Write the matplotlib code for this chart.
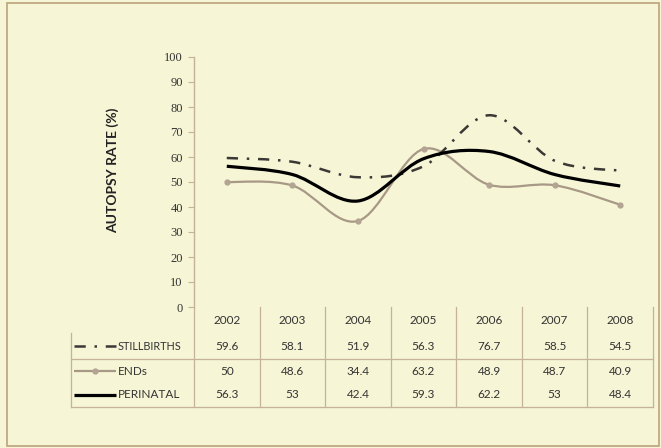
import matplotlib
matplotlib.use("Agg")
import matplotlib.pyplot as plt
from matplotlib.path import Path
from matplotlib.patches import PathPatch, Rectangle
from matplotlib.lines import Line2D
import numpy as np

years = ["2002", "2003", "2004", "2005", "2006", "2007", "2008"]
stillbirths = [59.6, 58.1, 51.9, 56.3, 76.7, 58.5, 54.5]
ends = [50, 48.6, 34.4, 63.2, 48.9, 48.7, 40.9]
perinatal = [56.3, 53, 42.4, 59.3, 62.2, 53, 48.4]
series_names = ["STILLBIRTHS", "ENDs", "PERINATAL"]
y_ticks = [0, 10, 20, 30, 40, 50, 60, 70, 80, 90, 100]

BG = "#F6F5D6"
AX = "#C6B296"
W, H = 661, 448
fig = plt.figure(figsize=(W / 100, H / 100), dpi=100, facecolor=BG)

# outer border
fig.patches.append(Rectangle((7 / W, 2 / H), (W - 9) / W, (H - 5) / H, transform=fig.transFigure,
                             fill=False, edgecolor="#BFA983", linewidth=1.3))

left_px, right_px, top_px, bot_px = 194, 653, 57, 307
ax = fig.add_axes([left_px / W, 1 - bot_px / H, (right_px - left_px) / W, (bot_px - top_px) / H])
ax.set_facecolor("none")
n = len(years)
ax.set_xlim(-0.5, n - 0.5)
ax.set_ylim(0, 100)
for s in ["top", "right", "bottom"]:
    ax.spines[s].set_visible(False)
ax.spines["left"].set_color(AX)
ax.spines["left"].set_linewidth(1.0)
ax.set_xticks([])
ax.set_yticks(y_ticks)
ax.set_yticklabels([str(t) for t in y_ticks], family="Liberation Serif", fontsize=9, color="#333333")
ax.tick_params(axis="y", length=4, color=AX, width=0.8, pad=4)
ax.set_ylabel("AUTOPSY RATE (%)", family="Lato", fontweight="bold", fontsize=10, color="#222222")
ax.yaxis.set_label_coords((113 - left_px) / (right_px - left_px), (bot_px - 170) / (bot_px - top_px))
ax.yaxis.label.set_va("center")


def smooth_path(xs, ys):
    pts = np.column_stack([xs, ys]).astype(float)
    ext = np.vstack([pts[0], pts, pts[-1]])
    verts = [tuple(pts[0])]
    codes = [Path.MOVETO]
    for i in range(len(pts) - 1):
        p0, p1, p2, p3 = ext[i], ext[i + 1], ext[i + 2], ext[i + 3]
        c1 = p1 + (p2 - p0) / 6.0
        c2 = p2 - (p3 - p1) / 6.0
        verts += [tuple(c1), tuple(c2), tuple(p2)]
        codes += [Path.CURVE4] * 3
    return Path(verts, codes)


xs = np.arange(n)
styles = {
    "STILLBIRTHS": dict(color="#3B3935", lw=1.8, ls=(0, (4.5, 3.5, 1.0, 3.5))),
    "ENDs": dict(color="#A89886", lw=1.6, ls="-"),
    "PERINATAL": dict(color="#000000", lw=2.3, ls="-"),
}
data = {"STILLBIRTHS": stillbirths, "ENDs": ends, "PERINATAL": perinatal}
for name in ["ENDs", "STILLBIRTHS", "PERINATAL"]:
    st = styles[name]
    patch = PathPatch(smooth_path(xs, data[name]), facecolor="none", edgecolor=st["color"],
                      linewidth=st["lw"], linestyle=st["ls"], capstyle="butt", zorder=3)
    ax.add_patch(patch)
ax.plot(xs, ends, linestyle="none", marker="o", markersize=3.5, color="#B3A493", zorder=4)

# data table (axes fraction y below plot)
def yf(px):
    return (bot_px - px) / (bot_px - top_px)

trans = ax.get_xaxis_transform()
tfont = dict(family="Lato", fontsize=8.5, color="#333333", ha="center", va="center")
row_centers = [320, 346, 371, 395]
for i, yr in enumerate(years):
    ax.text(i, yf(row_centers[0]), yr, transform=trans, clip_on=False, **tfont)
for r, name in enumerate(series_names):
    for i, v in enumerate(data[name]):
        ax.text(i, yf(row_centers[r + 1]), f"{v:g}", transform=trans, clip_on=False, **tfont)

# grid lines of the table
for k in range(n + 1):
    ax.plot([k - 0.5, k - 0.5], [yf(307), yf(407)], transform=trans, clip_on=False,
            color=AX, lw=0.9)
x_left = (71 - left_px) / (right_px - left_px) * n - 0.5
for ypx in [359, 407]:
    ax.plot([x_left, n - 0.5], [yf(ypx), yf(ypx)], transform=trans, clip_on=False, color=AX, lw=0.9)
ax.plot([x_left, x_left], [yf(333), yf(407)], transform=trans, clip_on=False, color=AX, lw=0.9)

# legend keys in the table
axes_px_to_x = lambda px: (px - left_px) / (right_px - left_px) * n - 0.5
k0, k1, tx = axes_px_to_x(74), axes_px_to_x(116), axes_px_to_x(118)
for r, name in enumerate(series_names):
    st = styles[name]
    yy = yf(row_centers[r + 1])
    ax.add_line(Line2D([k0, k1], [yy, yy], transform=trans, clip_on=False, color=st["color"],
                       lw=st["lw"], linestyle=st["ls"], solid_capstyle="butt", dash_capstyle="butt"))
    if name == "ENDs":
        ax.add_line(Line2D([(k0 + k1) / 2], [yy], transform=trans, clip_on=False, marker="o",
                           markersize=3.5, color="#B3A493", linestyle="none"))
    fs = 7.8 if name == "STILLBIRTHS" else 8.5
    ax.text(tx, yy, name, transform=trans, clip_on=False, family="Lato", fontsize=fs,
            color="#333333", ha="left", va="center")

fig.savefig("out.png", dpi=100, facecolor=BG)
